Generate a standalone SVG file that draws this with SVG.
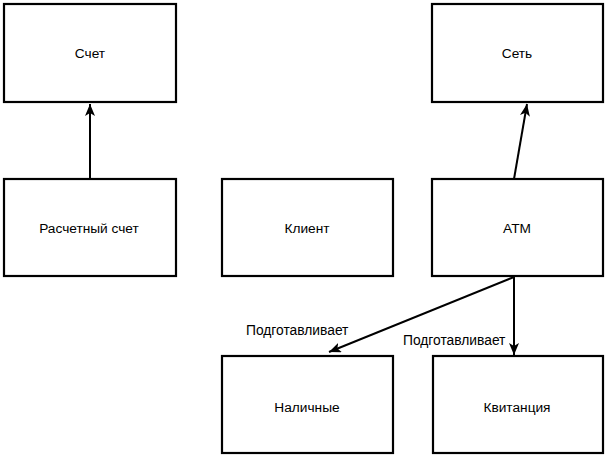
<svg xmlns="http://www.w3.org/2000/svg" width="607" height="458" viewBox="0 0 607 458">
<defs>
<style>
.box{fill:#fff;stroke:#000;stroke-width:2.2}
.t{font-family:"Liberation Sans",Arial,sans-serif;font-size:13.7px;text-anchor:middle;fill:#000}
.l{font-family:"Liberation Sans",Arial,sans-serif;font-size:13.8px;fill:#000}
.c{stroke:#000;stroke-width:2;fill:none;marker-end:url(#ah)}
</style>
<marker id="ah" viewBox="0 0 12 10" refX="12" refY="5" markerWidth="12" markerHeight="10" markerUnits="userSpaceOnUse" orient="auto">
<path d="M0,0 L12,5 L0,10 L3,5 Z" fill="#000"/>
</marker>
</defs>
<rect width="607" height="458" fill="#fff"/>
<g id="schet"><rect class="box" x="4" y="4" width="172" height="98"/><text class="t" x="90" y="58">Счет</text></g>
<g id="set"><rect class="box" x="432" y="4" width="171" height="98"/><text class="t" x="517" y="58">Сеть</text></g>
<g id="raschetny"><rect class="box" x="4" y="179" width="172" height="97"/><text class="t" x="89" y="233">Расчетный счет</text></g>
<g id="klient"><rect class="box" x="222" y="179" width="171" height="97"/><text class="t" x="307" y="233">Клиент</text></g>
<g id="atm"><rect class="box" x="432" y="179" width="171" height="97"/><text class="t" x="517" y="233">ATM</text></g>
<g id="nalichnye"><rect class="box" x="222" y="356" width="171" height="97"/><text class="t" x="307" y="412">Наличные</text></g>
<g id="kvitanciya"><rect class="box" x="433" y="356" width="170" height="97"/><text class="t" x="517" y="412">Квитанция</text></g>
<g id="connectors">
<line class="c" x1="90" y1="179" x2="90" y2="104"/>
<line class="c" x1="514" y1="179" x2="527" y2="104"/>
<line class="c" x1="514" y1="277" x2="329" y2="352"/>
<line class="c" x1="514" y1="277" x2="514" y2="355"/>
<text class="l" x="246" y="335">Подготавливает</text>
<text class="l" x="403" y="345">Подготавливает</text>
</g>
</svg>
